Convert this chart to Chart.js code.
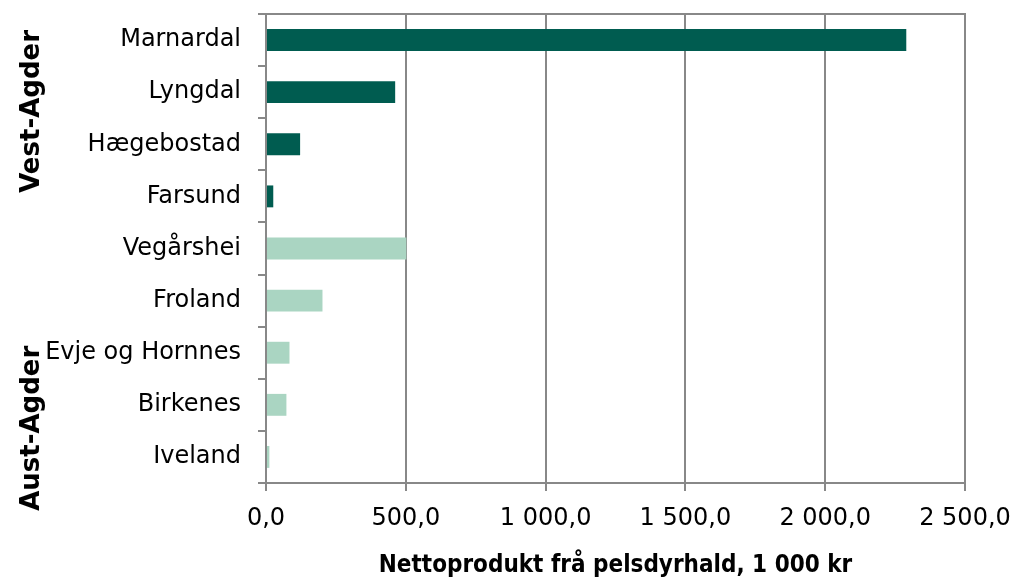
<!DOCTYPE html>
<html lang="no">
<head>
    <meta charset="UTF-8">
    <title>Nettoprodukt frå pelsdyrhald</title>
    <script src="https://cdn.jsdelivr.net/npm/chart.js"></script>
    <style>
        html, body { margin: 0; padding: 0; background: #fff; }
        #wrap { width: 1012px; height: 581px; }
    </style>
</head>
<body>
    <div id="wrap"><canvas id="pelsChart"></canvas></div>

    <script>
        // kommunar og fylke
        const kommunar = ["Marnardal", "Lyngdal", "Hægebostad", "Farsund", "Vegårshei",
                          "Froland", "Evje og Hornnes", "Birkenes", "Iveland"];
        const fylke = ["Vest-Agder", "Vest-Agder", "Vest-Agder", "Vest-Agder",
                       "Aust-Agder", "Aust-Agder", "Aust-Agder", "Aust-Agder", "Aust-Agder"];
        // nettoprodukt, 1 000 kr
        const nettoprodukt = [2290, 462, 122, 26, 502, 202, 84, 73, 12];
        const xTicks = [0, 500, 1000, 1500, 2000, 2500];

        const fargar = { "Vest-Agder": "#005C50", "Aust-Agder": "#AAD5C2" };
        const axisGrey = "#888888";

        function fmt(v) {
            // norsk format: 1 000,0
            const s = v.toFixed(1).split(".");
            return s[0].replace(/\B(?=(\d{3})+(?!\d))/g, " ") + "," + s[1];
        }

        function noPad(s) {
            s.paddingTop = 0; s.paddingBottom = 0;
            s.paddingLeft = 0; s.paddingRight = 0;
        }

        // fylkesnamn loddrett til venstre
        const fylkePlugin = {
            id: "fylke",
            afterDraw(chart) {
                const ctx = chart.ctx;
                const y = chart.scales.y;
                const grupper = [["Vest-Agder", 1.37], ["Aust-Agder", 7.45]];
                ctx.save();
                ctx.font = "bold 26px 'DejaVu Sans'";
                ctx.fillStyle = "#000";
                ctx.textAlign = "center";
                ctx.textBaseline = "alphabetic";
                grupper.forEach(([namn, pos]) => {
                    ctx.save();
                    ctx.translate(39, y.getPixelForValue(pos));
                    ctx.rotate(-Math.PI / 2);
                    ctx.fillText(namn, 0, 0);
                    ctx.restore();
                });
                ctx.restore();
            }
        };

        new Chart(document.getElementById("pelsChart"), {
            type: "bar",
            data: {
                labels: kommunar,
                datasets: [{
                    data: nettoprodukt,
                    backgroundColor: fylke.map(f => fargar[f]),
                    categoryPercentage: 1,
                    barPercentage: 0.42
                }]
            },
            options: {
                indexAxis: "y",
                responsive: true,
                maintainAspectRatio: false,
                animation: false,
                layout: { padding: { top: 14, right: 47, left: 0, bottom: 0 } },
                plugins: {
                    legend: { display: false },
                    tooltip: { enabled: false }
                },
                scales: {
                    x: {
                        min: 0,
                        max: 2500,
                        afterBuildTicks: s => { s.ticks = xTicks.map(v => ({ value: v })); },
                        ticks: {
                            callback: v => fmt(v),
                            color: "#000",
                            font: { family: "DejaVu Sans", size: 24 },
                            padding: 13,
                            maxRotation: 0
                        },
                        grid: { color: axisGrey, lineWidth: 2, tickLength: 8 },
                        border: { color: axisGrey, width: 2 },
                        title: {
                            display: true,
                            text: "Nettoprodukt frå pelsdyrhald, 1 000 kr",
                            color: "#000",
                            font: { family: "DejaVu Sans Condensed", size: 24, weight: "bold" },
                            padding: { top: 0, bottom: 1 }
                        },
                        afterFit: s => { s.height = 98; noPad(s); }
                    },
                    x2: {
                        position: "top",
                        min: 0,
                        max: 2500,
                        ticks: { display: false },
                        grid: { display: false },
                        border: { color: axisGrey, width: 2 },
                        afterFit: s => { s.height = 0; noPad(s); }
                    },
                    y: {
                        ticks: {
                            color: "#000",
                            font: { family: "DejaVu Sans", size: 24 },
                            padding: 17
                        },
                        grid: {
                            drawOnChartArea: false,
                            color: axisGrey,
                            lineWidth: 2,
                            tickLength: 8
                        },
                        border: { color: axisGrey, width: 2 },
                        afterFit: s => { s.width = 266; noPad(s); }
                    }
                }
            },
            plugins: [fylkePlugin]
        });
    </script>
</body>
</html>
